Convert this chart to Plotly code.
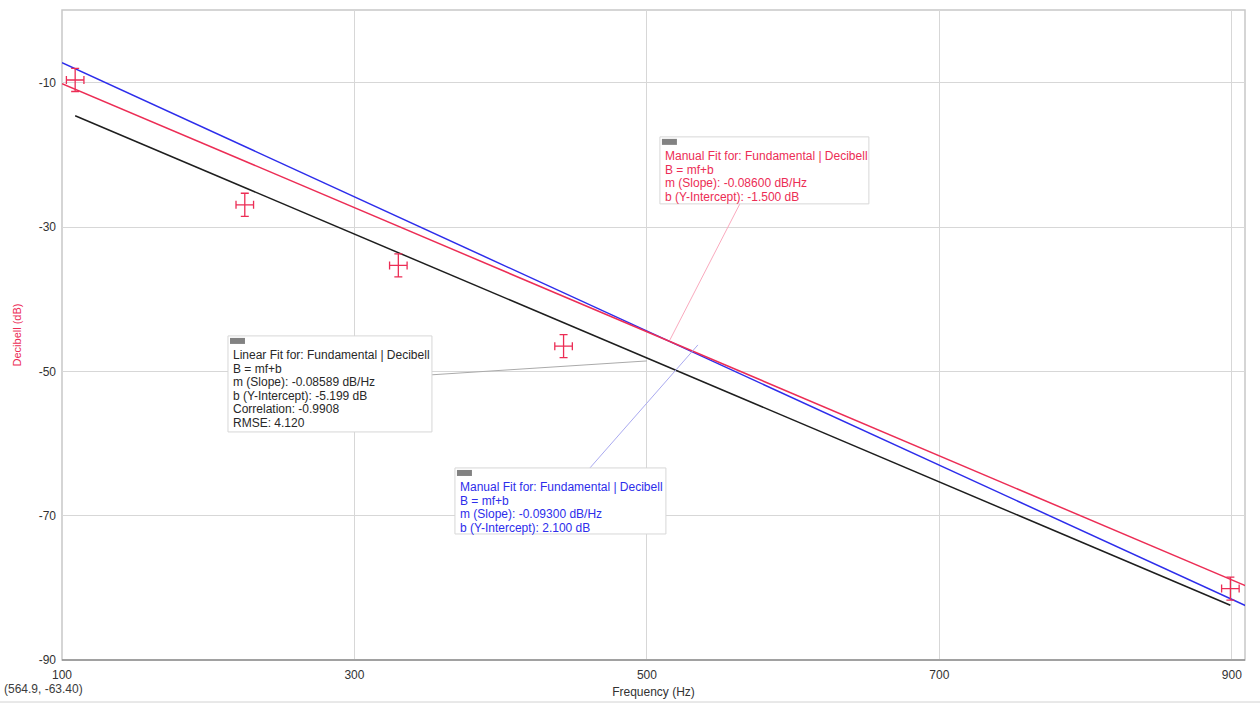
import plotly.graph_objects as go

# ---- data ----
freq = [109, 225, 330, 443, 899]
decibel = [-9.6, -26.9, -35.3, -46.5, -80.1]
freq_err = [6, 6, 6, 6, 6]
db_err = [1.6, 1.6, 1.6, 1.6, 1.6]

linear_m, linear_b = -0.08589, -5.199
red_m, red_b = -0.08600, -1.500
blue_m, blue_b = -0.09300, 2.100

x_ticks = [100, 300, 500, 700, 900]
y_ticks = [-10, -30, -50, -70, -90]

RED = "rgb(236,45,85)"
BLUE = "rgb(45,45,235)"
BLACK = "rgb(30,30,30)"

x_full = [100, 910]
x_data = [min(freq), max(freq)]

fig = go.Figure()
fig.add_trace(go.Scatter(x=x_data, y=[linear_m * v + linear_b for v in x_data],
                         mode="lines", line=dict(color=BLACK, width=1.5), hoverinfo="skip"))
fig.add_trace(go.Scatter(x=x_full, y=[blue_m * v + blue_b for v in x_full],
                         mode="lines", line=dict(color=BLUE, width=1.5), hoverinfo="skip"))
fig.add_trace(go.Scatter(x=x_full, y=[red_m * v + red_b for v in x_full],
                         mode="lines", line=dict(color=RED, width=1.5), hoverinfo="skip"))
fig.add_trace(go.Scatter(x=freq, y=decibel, mode="markers",
                         marker=dict(size=1, color=RED, opacity=0),
                         error_x=dict(type="data", array=freq_err, color=RED, thickness=1.3, width=4),
                         error_y=dict(type="data", array=db_err, color=RED, thickness=1.3, width=4)))

# pixel -> data helpers (for annotation boxes)
def px_x(p):
    return 100 + (p - 62) / 1.4625

def px_y(p):
    return -10 - (p - 83) / 7.2125

shapes = []
annotations = []

def box(x0, y0, x1, y1, lines, color):
    shapes.append(dict(type="rect", xref="x", yref="y", x0=px_x(x0), x1=px_x(x1),
                       y0=px_y(y0), y1=px_y(y1), line=dict(color="rgb(215,215,215)", width=1),
                       fillcolor="white", layer="above"))
    shapes.append(dict(type="rect", xref="x", yref="y", x0=px_x(x0 + 2), x1=px_x(x0 + 17),
                       y0=px_y(y0 + 2), y1=px_y(y0 + 8), line=dict(width=0),
                       fillcolor="rgb(130,130,130)", layer="above"))
    for i, t in enumerate(lines):
        annotations.append(dict(x=px_x(x0 + 3), y=px_y(y0 + 19.5 + i * 13.5), xref="x", yref="y",
                                text=t, showarrow=False, xanchor="left", yanchor="middle",
                                font=dict(family="Liberation Sans, Arial", size=12, color=color)))

# leader lines
shapes.append(dict(type="line", xref="x", yref="y", x0=px_x(742), y0=px_y(200), x1=px_x(670), y1=px_y(340),
                   line=dict(color="rgb(250,170,190)", width=1)))
shapes.append(dict(type="line", xref="x", yref="y", x0=px_x(590), y0=px_y(468), x1=px_x(698), y1=px_y(345),
                   line=dict(color="rgb(170,170,240)", width=1)))
shapes.append(dict(type="line", xref="x", yref="y", x0=px_x(430), y0=px_y(375), x1=px_x(647), y1=px_y(361),
                   line=dict(color="rgb(170,170,170)", width=1)))

box(660, 137, 869, 204, ["Manual Fit for: Fundamental | Decibell", "B = mf+b",
                         "m (Slope): -0.08600 dB/Hz", "b (Y-Intercept): -1.500 dB"], RED)
box(228, 336, 432, 432, ["Linear Fit for: Fundamental | Decibell", "B = mf+b",
                         "m (Slope): -0.08589 dB/Hz", "b (Y-Intercept): -5.199 dB",
                         "Correlation: -0.9908", "RMSE: 4.120"], "rgb(40,40,40)")
box(455, 468, 666, 534, ["Manual Fit for: Fundamental | Decibell", "B = mf+b",
                         "m (Slope): -0.09300 dB/Hz", "b (Y-Intercept): 2.100 dB"], BLUE)

# plot frame
shapes.append(dict(type="rect", xref="paper", yref="paper", x0=0, x1=1, y0=0, y1=1,
                   line=dict(color="rgb(200,200,200)", width=1.5), layer="below"))
shapes.append(dict(type="line", xref="paper", yref="paper", x0=0, x1=1, y0=0, y1=0,
                   line=dict(color="rgb(110,110,110)", width=1.2)))
# outer bottom line of the panel
shapes.append(dict(type="line", xref="paper", yref="paper", x0=-62 / 1183, x1=1 + 15 / 1183,
                   y0=-42 / 650, y1=-42 / 650, line=dict(color="rgb(210,210,210)", width=1)))

annotations.append(dict(x=-60 / 1183, y=-38 / 650, xref="paper", yref="paper", text="(564.9, -63.40)",
                        showarrow=False, xanchor="left", yanchor="bottom",
                        font=dict(family="Liberation Sans, Arial", size=12, color="rgb(60,60,60)")))

fig.update_layout(
    width=1260, height=704,
    margin=dict(l=62, r=15, t=10, b=44),
    plot_bgcolor="white", paper_bgcolor="white",
    showlegend=False,
    shapes=shapes, annotations=annotations,
    font=dict(family="Liberation Sans, Arial", size=12, color="rgb(50,50,50)"),
    xaxis=dict(range=[100, 909], tickvals=x_ticks, ticktext=[str(v) for v in x_ticks],
               showgrid=True, gridcolor="rgb(215,215,215)", gridwidth=1.2, zeroline=False,
               showline=False, ticks="", tickfont=dict(size=12, color="rgb(50,50,50)"),
               ticklabelstandoff=6, automargin=False,
               title=dict(text="Frequency (Hz)", font=dict(size=12, color="rgb(50,50,50)"), standoff=6)),
    yaxis=dict(range=[-90, 0.1], tickvals=y_ticks, ticktext=[str(v) for v in y_ticks],
               showgrid=True, gridcolor="rgb(215,215,215)", gridwidth=1.2, zeroline=False,
               showline=False, ticks="", tickfont=dict(size=12, color="rgb(50,50,50)"),
               ticklabelstandoff=5, automargin=False,
               title=dict(text="Decibell (dB)", font=dict(size=11, color=RED), standoff=14)),
)

fig.write_html("out.html", config={"displayModeBar": False},
               post_script="document.body.style.margin='0';document.body.style.overflow='hidden';")
